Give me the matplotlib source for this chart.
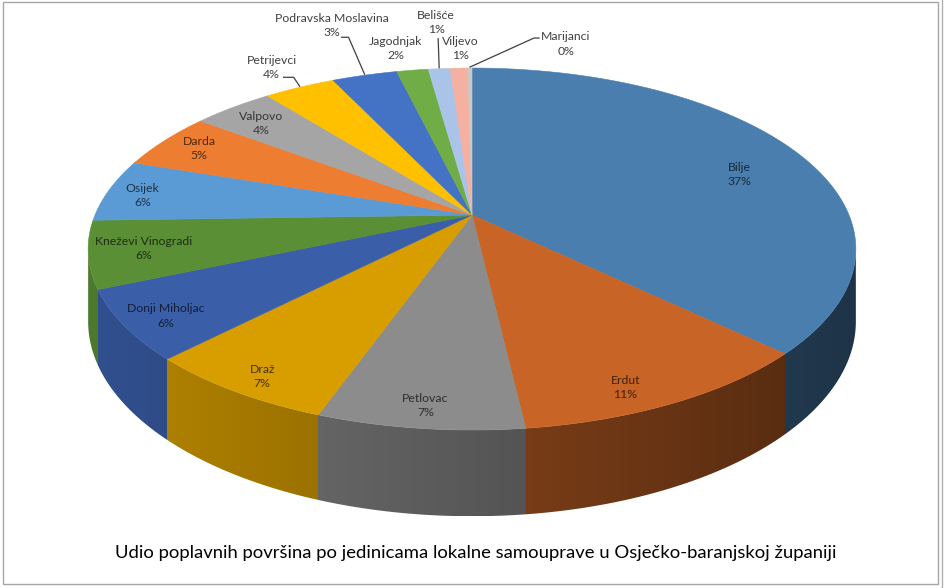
import numpy as np
import matplotlib
matplotlib.use("Agg")
import matplotlib.pyplot as plt
from matplotlib.patches import Polygon, Rectangle
from matplotlib.colors import to_rgb

plt.rcParams['font.family'] = ['Lato', 'DejaVu Sans']

# data: share of flood areas per local unit (%)
names = ['Bilje', 'Erdut', 'Petlovac', 'Draž', 'Donji Miholjac', 'Kneževi Vinogradi',
         'Osijek', 'Darda', 'Valpovo', 'Petrijevci', 'Podravska Moslavina',
         'Jagodnjak', 'Belišće', 'Viljevo', 'Marijanci']
values = [37.2, 11.0, 7.3, 6.9, 6.2, 6.0, 5.6, 5.1, 4.1, 3.6, 3.3, 1.6, 1.1, 0.9, 0.2]
colors = ['#4a7eae', '#c86426', '#8c8c8c', '#d89e00', '#3a5ea8', '#5a8f35',
          '#5b9bd5', '#ed7d31', '#a5a5a5', '#ffc000', '#4472c4', '#70ad47',
          '#a9c4e8', '#f4b0a0', '#c9c9c9']
title = 'Udio poplavnih površina po jedinicama lokalne samouprave u Osječko-baranjskoj županiji'

# layout: inside labels (radius fraction, angle shift), outside labels as pixel offsets from rim
label_pos = [(0.78, 5), (0.90, 4), (0.91, 0), (0.92, -1), (0.90, -1), (0.86, 0),
             (0.90, -1), (0.88, 0), (0.85, -1)]
outside_off = {9: (-28, -20), 10: (-33, -50), 11: (-17, -22), 12: (-3, -46),
               13: (1, -20), 14: (96, -24)}
leader_anchor = {9: (12, 10, 10), 10: (10, 12, 7), 12: (2, 16, 0), 14: (-27, -6, -5)}

# projection of the 3d pie (pixel space)
cx, cy = 472, 215
A, B, k, H = 377, 174.6, 0.188, 70


def proj(theta, r=1.0, z=0.0):
    t = np.radians(theta)
    X = r * np.sin(t)
    Y = r * np.cos(t)
    w = 1 + k * Y
    return cx + A * X / w, cy - B * Y / w + H * z / w


def shade(theta):
    f = 0.63 + 0.22 * np.sin(np.radians(1.2 * (theta - 180)))
    return np.clip(f, 0.4, 0.88)


fr = np.array(values) / sum(values)
edges = np.concatenate([[0], np.cumsum(fr) * 360])

fig = plt.figure(figsize=(9.44, 5.88), dpi=100)
ax = fig.add_axes([0, 0, 1, 1])
ax.set_xlim(0, 944)
ax.set_ylim(588, 0)
ax.axis('off')

# side wall (front part only): column-shaded image clipped to the wall outline
t_lo = 90 + np.degrees(np.arcsin(k))
t_hi = 270 - np.degrees(np.arcsin(k))
tt = np.linspace(t_lo, t_hi, 2000)
xt = np.array([proj(t)[0] for t in tt])
top = [proj(t) for t in tt]
bot = [proj(t, z=1) for t in tt[::-1]]
wall = Polygon(top + bot, closed=True, facecolor='none', edgecolor='none')
ax.add_patch(wall)

x0, x1 = xt.min(), xt.max()
ys = [p[1] for p in top + bot]
y0, y1 = min(ys), max(ys)
cols = np.linspace(x0, x1, 1600)
theta_col = np.interp(cols, xt[::-1], tt[::-1])
idx = np.searchsorted(edges, theta_col) - 1
rgb = np.array([to_rgb(colors[i]) for i in idx]) * shade(theta_col)[:, None]
img = np.repeat(rgb[None, :, :], 4, axis=0)
im = ax.imshow(img, extent=(x0, x1, y1, y0), aspect='auto', interpolation='nearest', zorder=1)
im.set_clip_path(wall)

# top face
for i in range(len(values)):
    ang = np.linspace(edges[i], edges[i + 1], max(3, int((edges[i + 1] - edges[i]) * 2)))
    pts = [(cx, cy)] + [proj(a) for a in ang]
    ax.add_patch(Polygon(pts, closed=True, facecolor=colors[i], edgecolor=colors[i],
                         lw=0.4, zorder=2))

# labels
for i, name in enumerate(names):
    mid = 0.5 * (edges[i] + edges[i + 1])
    txt = f'{name}\n{round(fr[i] * 100):.0f}%'
    if i < len(label_pos):
        r, dt = label_pos[i]
        x, y = proj(mid + dt, r)
        col = np.array(to_rgb(colors[i])) * 0.33
    else:
        rx, ry = proj(mid)
        dx, dy = outside_off[i]
        x, y = rx + dx, ry + dy
        col = '#404040'
        if i in leader_anchor:
            ax_, ay_, ex = leader_anchor[i]
            lx, ly = x + ax_, y + ay_
            ax.plot([lx, lx + ex, rx], [ly, ly, ry - 1], color='#404040', lw=0.9, zorder=3)
    ax.text(x, y, txt, ha='center', va='center', fontsize=8.8, color=col,
            linespacing=1.35, zorder=4)

ax.text(476, 553, title, ha='center', va='center', fontsize=13.3, color='black')

ax.add_patch(Rectangle((3, 2), 935, 582, fill=False, edgecolor='#a6a6a6', lw=1))
ax.plot([942, 942], [0, 588], color='#b0b0b0', lw=1)

fig.savefig('out.png', dpi=100)
